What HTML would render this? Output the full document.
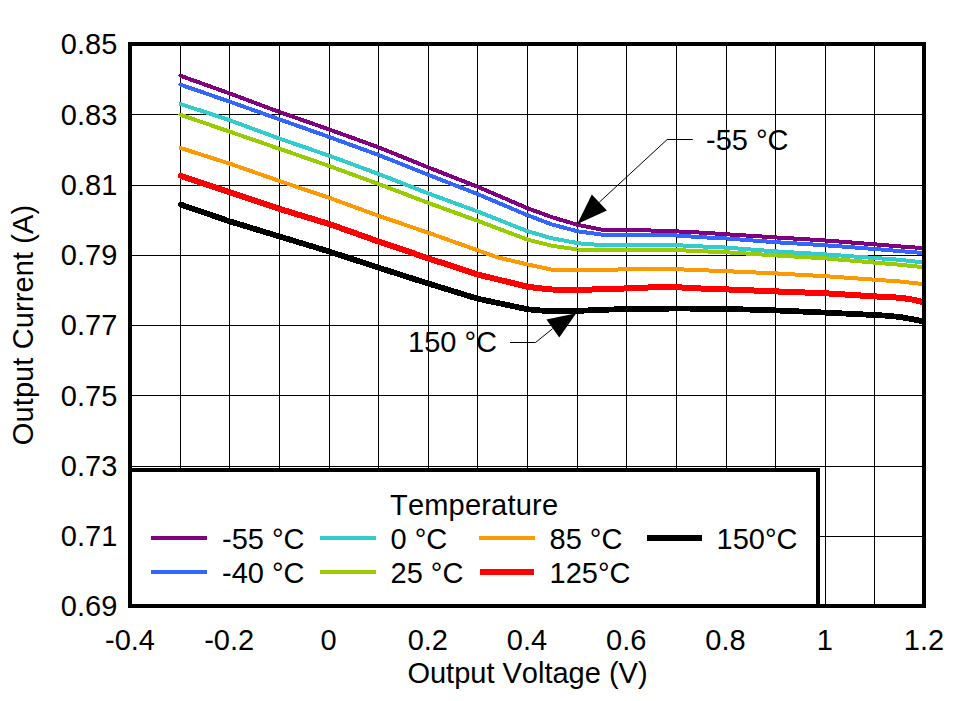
<!DOCTYPE html>
<html lang="en"><head><meta charset="utf-8"><title>Output Current vs Output Voltage</title>
<style>html,body{margin:0;padding:0;background:#fff;}svg{display:block;}text{font-family:"Liberation Sans",Arial,sans-serif;font-size:29px;fill:#000;font-kerning:none;}</style>
</head><body>
<svg width="968" height="701" viewBox="0 0 968 701">
<rect x="0" y="0" width="968" height="701" fill="#fff"/>
<g fill="#000" shape-rendering="crispEdges">
<rect x="180" y="44" width="1" height="562"/>
<rect x="229" y="44" width="1" height="562"/>
<rect x="279" y="44" width="1" height="562"/>
<rect x="329" y="44" width="1" height="562"/>
<rect x="378" y="44" width="1" height="562"/>
<rect x="428" y="44" width="1" height="562"/>
<rect x="477" y="44" width="1" height="562"/>
<rect x="527" y="44" width="1" height="562"/>
<rect x="577" y="44" width="1" height="562"/>
<rect x="626" y="44" width="1" height="562"/>
<rect x="676" y="44" width="1" height="562"/>
<rect x="726" y="44" width="1" height="562"/>
<rect x="775" y="44" width="1" height="562"/>
<rect x="825" y="44" width="1" height="562"/>
<rect x="874" y="44" width="1" height="562"/>
<rect x="130" y="114" width="794" height="1"/>
<rect x="130" y="185" width="794" height="1"/>
<rect x="130" y="255" width="794" height="1"/>
<rect x="130" y="325" width="794" height="1"/>
<rect x="130" y="395" width="794" height="1"/>
<rect x="130" y="466" width="794" height="1"/>
<rect x="130" y="536" width="794" height="1"/>
</g>
<clipPath id="pc"><rect x="130" y="44" width="794" height="562"/></clipPath>
<g fill="none" stroke-linejoin="round" stroke-linecap="round" clip-path="url(#pc)" shape-rendering="crispEdges">
<polyline points="181.0,204.7 229.6,221.3 279.5,236.5 329.5,251.6 378.6,267.7 428.5,283.6 477.7,298.7 527.7,309.3 545.0,310.9 560.0,311.2 577.5,310.9 590.0,310.3 614.0,309.4 626.6,309.2 676.5,308.5 726.5,308.9 775.6,310.4 825.6,312.6 874.6,315.0 887.0,315.7 900.0,317.0 912.0,319.1 924.0,321.5" stroke="#000000" stroke-width="5.8"/>
<polyline points="181.0,175.9 229.6,192.1 279.5,208.9 329.5,224.1 378.6,241.5 428.5,258.4 477.7,274.5 527.7,286.8 540.0,288.3 552.0,289.5 577.5,289.8 602.0,289.3 626.6,288.4 651.0,287.4 676.5,287.2 701.0,288.5 726.5,289.4 775.6,291.4 825.6,293.3 874.6,296.4 900.0,297.7 912.0,299.5 924.0,302.3" stroke="#FF0000" stroke-width="6.0"/>
<polyline points="180.5,148.0 229.6,163.6 279.5,181.0 329.5,197.9 378.6,215.8 428.5,232.8 477.7,250.3 497.0,257.2 527.7,264.5 552.0,269.7 577.5,269.8 602.0,269.7 626.6,269.4 651.0,269.0 676.5,269.2 701.0,270.2 726.5,271.2 775.6,273.4 825.6,276.2 874.6,279.7 900.0,281.5 924.0,284.2" stroke="#FF9900" stroke-width="4.0"/>
<polyline points="180.5,114.8 229.6,131.6 279.5,148.8 329.5,166.1 378.6,184.0 428.5,203.0 477.7,220.8 527.7,239.7 552.0,245.8 577.5,249.5 602.0,249.9 626.6,249.8 651.0,249.7 676.5,250.1 701.0,251.2 726.5,252.3 775.6,255.4 825.6,258.4 874.6,262.6 900.0,264.8 924.0,267.2" stroke="#99CC00" stroke-width="4.0"/>
<polyline points="180.5,104.0 229.6,120.2 279.5,138.6 329.5,155.8 378.6,174.0 428.5,193.5 477.7,211.5 527.7,231.3 552.0,238.3 577.5,243.1 590.0,244.4 602.0,244.7 626.6,244.8 651.0,244.8 676.5,245.2 701.0,246.4 726.5,247.6 775.6,251.4 825.6,254.4 874.6,258.0 900.0,259.8 924.0,262.5" stroke="#33CCCC" stroke-width="4.0"/>
<polyline points="180.5,84.7 229.6,101.6 279.5,119.4 329.5,137.1 378.6,155.0 428.5,174.9 477.7,194.1 527.7,215.3 552.0,224.5 577.5,231.3 602.0,234.6 626.6,235.0 651.0,235.0 676.5,235.5 701.0,237.2 726.5,238.5 775.6,242.2 825.6,245.3 874.6,249.0 900.0,251.1 924.0,253.1" stroke="#3366FF" stroke-width="4.0"/>
<polyline points="180.5,75.8 229.6,93.4 279.5,112.0 329.5,129.6 378.6,147.3 428.5,167.5 477.7,186.8 527.7,208.3 552.0,217.2 577.5,224.8 602.0,229.7 626.6,230.0 651.0,230.5 676.5,231.4 701.0,232.6 726.5,234.3 775.6,237.4 825.6,240.5 874.6,244.3 900.0,246.4 924.0,248.2" stroke="#800080" stroke-width="4.0"/>
</g>
<g stroke="#000" stroke-width="1" fill="none">
<polyline points="599.2,202.3 667.2,139.5 692.8,139.5"/>
<polyline points="552.6,328.7 535.5,342.5 510,342.5"/>
</g>
<polygon points="577.3,224 591.8,194.4 606.9,210.5" fill="#000"/>
<polygon points="576.2,313.2 546.4,319.6 559.3,337.6" fill="#000"/>
<text x="706" y="150">-55 °C</text>
<text x="408" y="352">150 °C</text>
<rect x="130" y="470" width="688" height="136" fill="#fff" stroke="#000" stroke-width="4"/>
<rect x="130" y="44" width="794" height="562" fill="none" stroke="#000" stroke-width="4"/>
<text x="390" y="514.5" letter-spacing="0.2">Temperature</text>
<g shape-rendering="crispEdges">
<rect x="151" y="536" width="56" height="4" fill="#800080"/>
<rect x="151" y="570" width="56" height="4" fill="#3366FF"/>
<rect x="320" y="536" width="56" height="4" fill="#33CCCC"/>
<rect x="320" y="570" width="56" height="4" fill="#99CC00"/>
<rect x="479" y="536" width="56" height="4" fill="#FF9900"/>
<rect x="480" y="569" width="54" height="6" fill="#FF0000"/>
<rect x="647" y="535" width="55" height="6" fill="#000"/>
</g>
<text x="222" y="548.5">-55 °C</text>
<text x="222" y="582.5">-40 °C</text>
<text x="390.5" y="548.5">0 °C</text>
<text x="390.5" y="582.5">25 °C</text>
<text x="549.5" y="548.5">85 °C</text>
<text x="549.5" y="582.5">125°C</text>
<text x="716.5" y="548.5">150°C</text>
<g text-anchor="end">
<text x="117.3" y="54.3">0.85</text>
<text x="117.3" y="124.5">0.83</text>
<text x="117.3" y="194.8">0.81</text>
<text x="117.3" y="265.1">0.79</text>
<text x="117.3" y="335.3">0.77</text>
<text x="117.3" y="405.6">0.75</text>
<text x="117.3" y="475.8">0.73</text>
<text x="117.3" y="546.0">0.71</text>
<text x="117.3" y="616.3">0.69</text>
</g>
<g text-anchor="middle">
<text x="130.0" y="649.5">-0.4</text>
<text x="229.2" y="649.5">-0.2</text>
<text x="328.5" y="649.5">0</text>
<text x="427.8" y="649.5">0.2</text>
<text x="527.0" y="649.5">0.4</text>
<text x="626.2" y="649.5">0.6</text>
<text x="725.5" y="649.5">0.8</text>
<text x="824.8" y="649.5">1</text>
<text x="924.0" y="649.5">1.2</text>
<text x="527.5" y="682.5">Output Voltage (V)</text>
<text transform="translate(33.3,325) rotate(-90)" x="0" y="0" letter-spacing="0.1">Output Current (A)</text>
</g>
</svg>
</body></html>
